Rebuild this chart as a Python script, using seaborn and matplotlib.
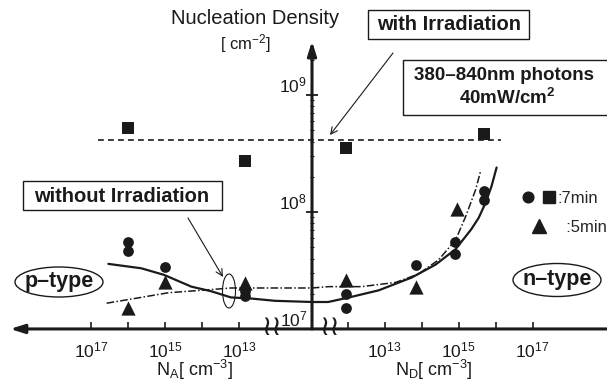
import numpy as np
import pandas as pd
import matplotlib
matplotlib.use('Agg')
import matplotlib.pyplot as plt
import seaborn as sns
from matplotlib.patches import Ellipse, Rectangle
from matplotlib.lines import Line2D
from matplotlib.legend_handler import HandlerTuple
from matplotlib.ticker import FixedLocator

sns.set_theme(style='white')
plt.rcParams['font.family'] = ['Liberation Sans', 'DejaVu Sans']
plt.rcParams['mathtext.fontset'] = 'custom'
plt.rcParams['mathtext.rm'] = 'Liberation Sans'
plt.rcParams['mathtext.it'] = 'Liberation Sans:italic'
plt.rcParams['mathtext.bf'] = 'Liberation Sans:bold'

# measured points, acceptor side (p-type): N_A [cm^-3] -> nucleation density [cm^-2]
na_sq = [1e16, 7e12]
na_sq_dens = [5.2e8, 2.75e8]
na_circ = [1e16, 1e16, 1e15, 7e12, 7e12]
na_circ_dens = [5.5e7, 4.6e7, 3.4e7, 2.1e7, 1.9e7]
na_tri = [1e16, 1e15, 7e12]
na_tri_dens = [1.5e7, 2.5e7, 2.45e7]

# donor side (n-type): N_D [cm^-3]
nd_sq = [9e11, 5e15]
nd_sq_dens = [3.5e8, 4.6e8]
nd_circ = [9e11, 9e11, 7e13, 8e14, 8e14, 5e15, 5e15]
nd_circ_dens = [2.0e7, 1.5e7, 3.5e7, 5.5e7, 4.4e7, 1.5e8, 1.26e8]
nd_tri = [9e11, 7e13, 9e14]
nd_tri_dens = [2.6e7, 2.3e7, 1.05e8]

# fitted curves without irradiation (solid: 7 min, dash-dot: 5 min)
solid_na = [3.5e16, 4.5e15, 1.1e15, 2e14, 5.8e13, 1.7e13, 4.8e12, 1.1e12, 1.1e11]
solid_na_dens = [3.6e7, 3.3e7, 2.9e7, 2.3e7, 2.1e7, 1.86e7, 1.82e7, 1.74e7, 1.7e7]
solid_nd = [1.1e11, 3e11, 1.1e12, 7e12, 5.4e13, 2.4e14, 8.3e14, 2.2e15, 3.5e15, 5.4e15, 7.8e15, 1.07e16]
solid_nd_dens = [1.7e7, 1.7e7, 1.86e7, 2.14e7, 2.75e7, 3.55e7, 4.8e7, 7.1e7, 8.9e7, 1.2e8, 1.66e8, 2.4e8]

dash_na = [3.9e16, 6.9e15, 8.3e14, 1.07e14, 1.66e13, 1.1e12, 1.1e11]
dash_na_dens = [1.66e7, 1.82e7, 2.04e7, 2.14e7, 2.24e7, 2.24e7, 2.24e7]
dash_nd = [1.1e11, 3.1e11, 2.4e12, 2e13, 8.3e13, 2.9e14, 8.3e14, 1.55e15, 2.9e15, 3.9e15]
dash_nd_dens = [2.24e7, 2.3e7, 2.3e7, 2.5e7, 2.95e7, 3.9e7, 5.75e7, 9.1e7, 1.55e8, 2.2e8]

# with irradiation (flat level)
irr_na = [6.5e16, 1.1e11]
irr_nd = [1.1e11, 1.45e16]
irr_dens = 4.1e8

left_decades = [13, 14, 15, 16, 17]
right_decades = [12, 13, 14, 15, 16, 17]

OFFSET = 11.04  # decade sitting at the broken y-axis


def to_u(conc, side):
    lg = np.log10(np.asarray(conc, dtype=float)) - OFFSET
    return -lg if side == 'A' else lg


W, H = 607, 383


def px(x, y):
    return (x / W, 1 - y / H)


fig = plt.figure(figsize=(6.07, 3.83), dpi=100)
ax = fig.add_axes([0, 0, 1, 1])
ax.set_yscale('log')
ax.set_xlim(-312 / 37, 295 / 37)
ax.set_ylim(10 ** 6.538, 10 ** 9.812)
ax.set_facecolor('white')

# points
rows = []
for conc, dens, kind, side in [(na_sq, na_sq_dens, 'sq', 'A'), (na_circ, na_circ_dens, 'circ', 'A'),
                               (na_tri, na_tri_dens, 'tri', 'A'), (nd_sq, nd_sq_dens, 'sq', 'D'),
                               (nd_circ, nd_circ_dens, 'circ', 'D'), (nd_tri, nd_tri_dens, 'tri', 'D')]:
    for c, d in zip(to_u(conc, side), dens):
        rows.append({'u': c, 'density': d, 'kind': kind})
pts = pd.DataFrame(rows)

for kind, mk, s in [('circ', 'o', 60), ('sq', 's', 75), ('tri', '^', 105)]:
    sns.scatterplot(data=pts[pts['kind'] == kind], x='u', y='density', marker=mk, s=s,
                    color='k', edgecolor='k', linewidth=0, ax=ax, legend=False, zorder=4)

# curves
def curve(na, na_d, nd, nd_d, **kw):
    u = np.concatenate([to_u(na, 'A'), to_u(nd, 'D')])
    d = np.concatenate([na_d, nd_d])
    sns.lineplot(x=u, y=d, sort=False, estimator=None, color='k', ax=ax, **kw)

curve(solid_na, solid_na_dens, solid_nd, solid_nd_dens, lw=1.6)
curve(dash_na, dash_na_dens, dash_nd, dash_nd_dens, lw=1.1, linestyle=(0, (5, 1.5, 1, 1.5)))
curve(irr_na, [irr_dens] * 2, irr_nd, [irr_dens] * 2, lw=1.2, linestyle=(0, (3.5, 2.5)))

# axes through the break
for s in ['top', 'right', 'bottom', 'left']:
    ax.spines[s].set_visible(False)
ax.spines['bottom'].set_position(('data', 1e7))
ax.spines['left'].set_position(('data', 0))
ax.grid(False)

xt = list(to_u([10.0 ** d for d in left_decades], 'A')) + list(to_u([10.0 ** d for d in right_decades], 'D'))
xl = ['$10^{%d}$' % d if d % 2 else '' for d in left_decades] + \
     ['$10^{%d}$' % d if d % 2 else '' for d in right_decades]
ax.set_xticks(xt)
ax.set_xticklabels(xl)
ax.tick_params(axis='x', bottom=True, direction='in', length=5, width=1.2, pad=8,
               labelsize=12.5, color='k', labelcolor='k')
ax.set_xlabel('')
ax.set_ylabel('')

ax.set_yticks([1e7, 1e8, 1e9])
ax.set_yticklabels(['$10^7$', '$10^8$', '$10^9$'])
ax.yaxis.set_minor_locator(FixedLocator([k * 10.0 ** e for e in (7, 8) for k in range(2, 10)] + [2e9]))
ax.yaxis.set_minor_formatter(plt.NullFormatter())
ax.tick_params(axis='y', which='major', left=True, direction='inout', length=9, width=1.3,
               pad=-1, labelsize=12.5, color='k', labelcolor='k')
ax.tick_params(axis='y', which='minor', left=True, direction='inout', length=3, width=0.8, color='k')
plt.setp(ax.get_yticklabels(), va='bottom')

ax.annotate('', xy=(0, 10 ** 9.46), xytext=(0, 1e7),
            arrowprops=dict(arrowstyle='-|>,head_length=0.7,head_width=0.22', lw=2.2, color='k',
                            shrinkA=0, shrinkB=0), zorder=5)
ax.annotate('', xy=(-8.16, 1e7), xytext=(8.2, 1e7),
            arrowprops=dict(arrowstyle='-|>,head_length=0.7,head_width=0.22', lw=2.2, color='k',
                            shrinkA=0, shrinkB=0), zorder=5)

# break marks on the horizontal axis
for x in (272, 330):
    fig.text(*px(x, 327), '\u2240\u2240', ha='center', va='center', fontsize=20,
             family=['DejaVu Sans'], color='k')

# titles and labels
fig.text(*px(255, 18), 'Nucleation Density', ha='center', va='center', fontsize=14.5, color='k')
fig.text(*px(245, 44), '[ cm$^{-2}$]', ha='center', va='center', fontsize=12, color='k')
fig.text(*px(194, 370), 'N$_\\mathrm{A}$[ cm$^{-3}$]', ha='center', va='center', fontsize=13, color='k')
fig.text(*px(434, 370), 'N$_\\mathrm{D}$[ cm$^{-3}$]', ha='center', va='center', fontsize=13, color='k')

# boxed notes
def box(x0, y0, x1, y1):
    ax.add_patch(Rectangle(px(x0, y1), (x1 - x0) / W, (y1 - y0) / H, transform=fig.transFigure,
                           fill=False, lw=1.0, edgecolor='k', clip_on=False))

box(368, 10, 529, 39)
fig.text(*px(449, 25), 'with Irradiation', ha='center', va='center', fontsize=14.5,
         fontweight='bold', color='k')
box(403, 60, 612, 115)
fig.text(*px(504, 76), '380\u2013840nm photons', ha='center', va='center', fontsize=13.5,
         fontweight='bold', color='k')
fig.text(*px(507, 98), '40mW/cm$^\\mathbf{2}$', ha='center', va='center', fontsize=13.5,
         fontweight='bold', color='k')
box(23, 181, 222, 210)
fig.text(*px(122, 196), 'without Irradiation', ha='center', va='center', fontsize=14.5,
         fontweight='bold', color='k')

ax.annotate('', xy=px(330, 135), xytext=px(393, 53), xycoords='figure fraction',
            arrowprops=dict(arrowstyle='->', lw=0.8, color='k', shrinkA=0, shrinkB=0))
ax.annotate('', xy=px(223, 277), xytext=px(188, 218), xycoords='figure fraction',
            arrowprops=dict(arrowstyle='->', lw=0.8, color='k', shrinkA=0, shrinkB=0))

for cx, cy, w, h, lw in [(229, 291, 13, 34, 0.8), (59, 282, 88, 30, 1.0), (557, 280, 88, 33, 1.0)]:
    ax.add_patch(Ellipse(px(cx, cy), w / W, h / H, transform=fig.transFigure, fill=False,
                         lw=lw, edgecolor='k', clip_on=False))
fig.text(*px(59, 282), 'p\u2013type', ha='center', va='center', fontsize=15.5, fontweight='bold', color='k')
fig.text(*px(557, 280), 'n\u2013type', ha='center', va='center', fontsize=15.5, fontweight='bold', color='k')

# legend
h7 = (Line2D([], [], marker='o', ls='', color='k', markersize=7.7),
      Line2D([], [], marker='s', ls='', color='k', markersize=8.7))
h5 = Line2D([], [], marker='^', ls='', color='k', markersize=10)
fig.legend([h7, h5], [':7min', '  :5min'], handler_map={tuple: HandlerTuple(ndivide=None, pad=0)},
           loc='upper left', bbox_to_anchor=px(518, 191), frameon=False, fontsize=12,
           handlelength=2.5, handletextpad=-0.15, labelspacing=0.85, borderpad=0, borderaxespad=0)

fig.savefig('out.png', dpi=100)
